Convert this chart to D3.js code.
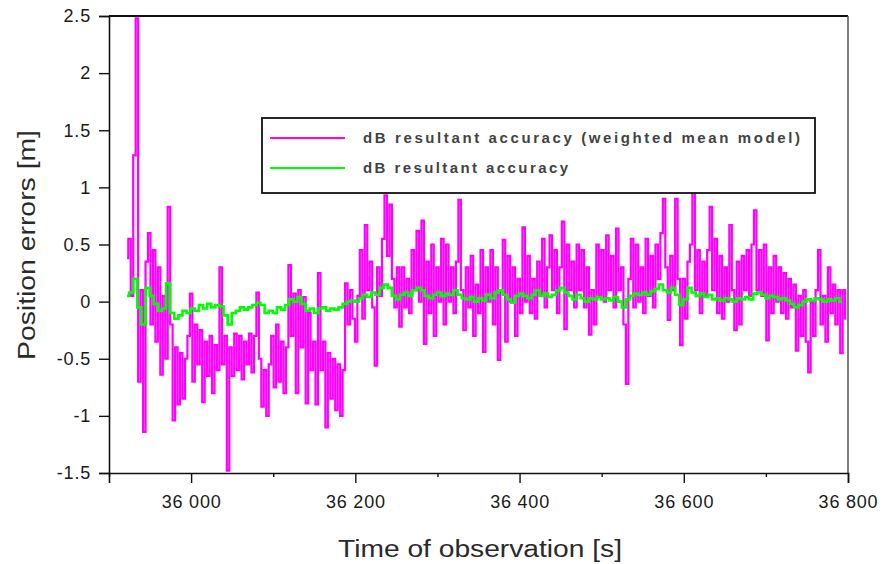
<!DOCTYPE html>
<html>
<head>
<meta charset="utf-8">
<script src="https://cdn.jsdelivr.net/npm/d3@7"></script>
<style>
  html, body { margin: 0; padding: 0; background: #fff; }
  svg { display: block; }
</style>
</head>
<body>
<svg id="chart" width="884" height="564"></svg>
<script>
// ---------------- data ----------------
const xTicks = [36000, 36200, 36400, 36600, 36800];
const xTickLabels = ["36 000", "36 200", "36 400", "36 600", "36 800"];
const xMinorTicks = [35900, 36100, 36300, 36500, 36700];
const yTicks = [-1.5, -1, -0.5, 0, 0.5, 1, 1.5, 2, 2.5];
const yTickLabels = ["-1.5", "-1", "-0.5", "0", "0.5", "1", "1.5", "2", "2.5"];

const seriesNames = ["dB resultant accuracy (weighted mean model)", "dB resultant accuracy"];

// weighted mean model series: sampled every 3 s starting at 35922 s
const weightedStart = 35922;
const weightedStep = 3;
const weightedValues = [
  0.38, 0.55, 0.05, 1.28, 2.48, -0.7, 0.1, -1.14, 0.35, 0.6,
  -0.2, 0.45, -0.35, 0.3, -0.64, 0.05, -0.5, 0.83, -0.2, -1.04,
  -0.4, -0.9, -0.45, -0.85, -0.5, -0.3, 0.07, -0.7, -0.2, -0.55,
  -0.25, -0.88, -0.35, -0.65, -0.3, -0.8, -0.38, -0.6, 0.3, -0.55,
  -0.3, -1.48, -0.4, -0.65, -0.28, -0.6, -0.3, -0.68, -0.35, -0.55,
  -0.28, -0.62, -0.3, 0.08, -0.5, -0.92, -0.6, -1.0, -0.55, -0.3,
  -0.75, -0.2, -0.7, -0.35, -0.8, -0.4, 0.32, -0.3, 0.07, -0.8,
  0.1, -0.4, 0.04, -0.89, -0.1, -0.6, -0.35, -0.9, 0.25, -0.6,
  -0.35, -1.1, -0.45, -0.85, -0.5, -0.95, -0.55, -1.0, -0.6, 0.16,
  -0.2, 0.1, -0.15, -0.35, 0.05, 0.45, -0.15, 0.67, 0.1, 0.35,
  -0.05, -0.56, 0.3, 0.05, 0.55, 0.93, 0.4, 0.85, 0.2, -0.05,
  0.3, -0.22, 0.3, -0.05, 0.2, -0.1, 0.45, 0.1, 0.62, 0.0,
  0.71, -0.37, 0.35, -0.1, 0.5, -0.3, 0.3, 0.0, 0.55, -0.2,
  0.5, 0.0, 0.3, -0.1, 0.35, 0.89, 0.1, -0.25, 0.3, -0.05,
  0.4, -0.3, 0.15, -0.1, 0.45, -0.44, 0.3, 0.0, 0.45, -0.2,
  0.3, -0.51, 0.1, 0.54, -0.35, 0.4, 0.0, 0.3, -0.3, 0.2,
  -0.1, 0.65, 0.0, 0.4, -0.1, 0.2, -0.15, 0.35, 0.05, 0.55,
  -0.05, 0.3, 0.58, 0.1, 0.45, -0.1, 0.3, 0.7, -0.24, 0.5,
  0.1, 0.35, -0.05, 0.5, 0.1, 0.45, -0.05, 0.3, -0.29, 0.1,
  -0.2, 0.5, 0.05, 0.45, 0.0, 0.58, 0.1, 0.4, -0.05, 0.64,
  0.1, 0.3, -0.2, -0.72, 0.2, 0.55, -0.05, 0.5, 0.0, 0.3,
  -0.1, 0.55, 0.05, 0.4, -0.05, 0.5, 0.2, 0.6, 0.9, 0.3,
  -0.16, 0.4, 0.1, 0.9, 0.2, -0.38, 0.2, -0.15, 0.35, 0.5,
  1.0, 0.1, 0.45, -0.1, 0.35, 0.05, 0.45, 0.83, 0.1, 0.55,
  -0.1, 0.4, -0.15, 0.3, 0.0, 0.67, 0.1, -0.25, 0.35, -0.2,
  0.4, 0.1, 0.45, 0.05, 0.5, 0.8, 0.1, 0.45, 0.05, 0.5,
  -0.34, 0.3, -0.1, 0.4, 0.0, 0.3, -0.1, 0.25, -0.15, 0.2,
  -0.05, 0.15, -0.43, 0.05, -0.3, 0.1, -0.35, -0.62, 0.0, -0.3,
  0.1, 0.45, -0.2, 0.05, -0.35, 0.3, -0.1, 0.15, -0.2, 0.1,
  -0.45, 0.1, -0.15
];

// plain series: sampled every 5 s starting at 35922 s
const plainStart = 35922;
const plainStep = 5;
const plainValues = [
  0.05, 0.08, 0.2, -0.05, -0.2, 0.12, 0.05, -0.02, -0.08, -0.06,
  0.16, -0.1, -0.15, -0.12, -0.08, -0.1, -0.06, -0.08, -0.03, -0.06,
  -0.02, -0.05, -0.03, -0.04, -0.12, -0.2, -0.1, -0.08, -0.05, -0.07,
  -0.05, -0.03, -0.01, -0.03, -0.1, -0.08, -0.1, -0.05, -0.07, -0.03,
  0.02, 0.0, 0.04, -0.02, -0.08, -0.06, -0.1, -0.06, -0.05, -0.08,
  -0.06, -0.07, -0.05, -0.02, 0.0, 0.01, 0.0, 0.03, 0.06, 0.04,
  0.08, 0.06, 0.12, 0.15, 0.12, 0.05, 0.02, 0.06, 0.08, 0.05,
  0.1, 0.12, 0.1, 0.05, 0.03, 0.06, 0.08, 0.05, 0.07, 0.06,
  0.1, 0.06, 0.03, 0.02, 0.04, 0.0, 0.03, 0.01, 0.06, 0.03,
  0.08, 0.1, 0.06, 0.02, -0.01, 0.05, 0.07, 0.05, 0.03, 0.06,
  0.1, 0.05, 0.07, 0.04, 0.06, 0.1, 0.12, 0.08, 0.05, 0.02,
  0.06, 0.03, 0.0, 0.03, 0.02, 0.04, 0.02, 0.03, 0.01, 0.04,
  0.0, -0.05, 0.02, 0.05, 0.07, 0.06, 0.08, 0.06, 0.09, 0.11,
  0.15, 0.1, 0.08, 0.12, 0.06, -0.03, 0.02, 0.12, 0.08, 0.05,
  0.07, 0.04, 0.06, 0.02, 0.03, 0.01, 0.03, 0.02, 0.0, 0.03,
  0.02, 0.04, 0.02, 0.07, 0.08, 0.06, 0.03, 0.05, 0.04, 0.02,
  0.03, 0.01, -0.02, -0.05, -0.03, 0.0, 0.02, 0.01, 0.03, 0.02,
  0.0, 0.02, 0.01, 0.03, 0.0
];

const colors = ["#ff00ff", "#00ff00"];

// ---------------- drawing ----------------
const svg = d3.select("#chart");
const mLeft = 109, mRight = 848, mTop = 16, mBottom = 473;

const x = d3.scaleLinear().domain([35900, 36800]).range([mLeft, mRight]);
const y = d3.scaleLinear().domain([-1.5, 2.5]).range([mBottom, mTop]);

const weighted = weightedValues.map((v, i) => ({ t: weightedStart + i * weightedStep, v }));
const plain = plainValues.map((v, i) => ({ t: plainStart + i * plainStep, v }));

const line = d3.line().x(d => x(d.t)).y(d => y(d.v)).curve(d3.curveStep);

svg.append("defs").append("clipPath").attr("id", "clip")
  .append("rect").attr("x", mLeft).attr("y", mTop).attr("width", mRight - mLeft).attr("height", mBottom - mTop);

const plot = svg.append("g").attr("clip-path", "url(#clip)");
plot.append("path").datum(weighted)
  .attr("d", line).attr("fill", "none").attr("stroke", colors[0])
  .attr("stroke-width", 2.2);
plot.append("path").datum(plain)
  .attr("d", line).attr("fill", "none").attr("stroke", colors[1])
  .attr("stroke-width", 2.6);

// frame: top and right
svg.append("line").attr("x1", mLeft).attr("x2", mRight).attr("y1", mTop).attr("y2", mTop)
  .attr("stroke", "#111").attr("stroke-width", 2);
svg.append("line").attr("x1", mRight).attr("x2", mRight).attr("y1", mTop).attr("y2", mBottom)
  .attr("stroke", "#555").attr("stroke-width", 1.5);

const tickFont = "'Liberation Sans', Arial, sans-serif";

// x axis
const xAxis = svg.append("g").attr("transform", `translate(0,${mBottom})`)
  .call(d3.axisBottom(x).tickValues(xTicks).tickSize(10).tickPadding(12)
    .tickFormat((d, i) => xTickLabels[i]));
const xMinor = svg.append("g").attr("transform", `translate(0,${mBottom})`)
  .call(d3.axisBottom(x).tickValues(xMinorTicks).tickSize(4).tickFormat(""));
xMinor.select(".domain").remove();

// y axis
const yAxis = svg.append("g").attr("transform", `translate(${mLeft},0)`)
  .call(d3.axisLeft(y).tickValues(yTicks).tickSize(10).tickPadding(8)
    .tickFormat((d, i) => yTickLabels[i]));

[xAxis, xMinor, yAxis].forEach(g => {
  g.select(".domain").attr("stroke", "#111").attr("stroke-width", 1.6);
  g.selectAll(".tick line").attr("stroke", "#111").attr("stroke-width", 1.4);
  g.selectAll(".tick text").attr("fill", "#1a1a1a")
    .style("font-family", tickFont).style("font-size", "18px").style("letter-spacing", "0.8px");
});
xAxis.selectAll(".tick text").attr("dy", "0.71em");

// axis titles
svg.append("text")
  .attr("x", 480).attr("y", 557).attr("text-anchor", "middle")
  .attr("fill", "#2a2a2a").style("font-family", tickFont).style("font-size", "23px")
  .attr("textLength", 284).attr("lengthAdjust", "spacingAndGlyphs")
  .text("Time of observation [s]");
svg.append("text")
  .attr("transform", "translate(35,245) rotate(-90)").attr("text-anchor", "middle")
  .attr("fill", "#2a2a2a").style("font-family", tickFont).style("font-size", "23px")
  .attr("textLength", 230).attr("lengthAdjust", "spacingAndGlyphs")
  .text("Position errors [m]");

// legend
const lg = svg.append("g");
lg.append("rect").attr("x", 262).attr("y", 118).attr("width", 553).attr("height", 75)
  .attr("fill", "#fff").attr("stroke", "#111").attr("stroke-width", 1.8);
const legendRows = [
  { name: seriesNames[0], color: colors[0], y: 138, len: 437 },
  { name: seriesNames[1], color: colors[1], y: 168, len: 205 }
];
legendRows.forEach(r => {
  lg.append("line").attr("x1", 270).attr("x2", 345).attr("y1", r.y).attr("y2", r.y)
    .attr("stroke", r.color).attr("stroke-width", 1.8);
  lg.append("text").attr("x", 363).attr("y", r.y + 5)
    .attr("fill", "#222").style("font-family", tickFont).style("font-size", "15px")
    .style("font-weight", "bold").style("opacity", 0.85)
    .attr("textLength", r.len).attr("lengthAdjust", "spacing")
    .text(r.name);
});
</script>
</body>
</html>
